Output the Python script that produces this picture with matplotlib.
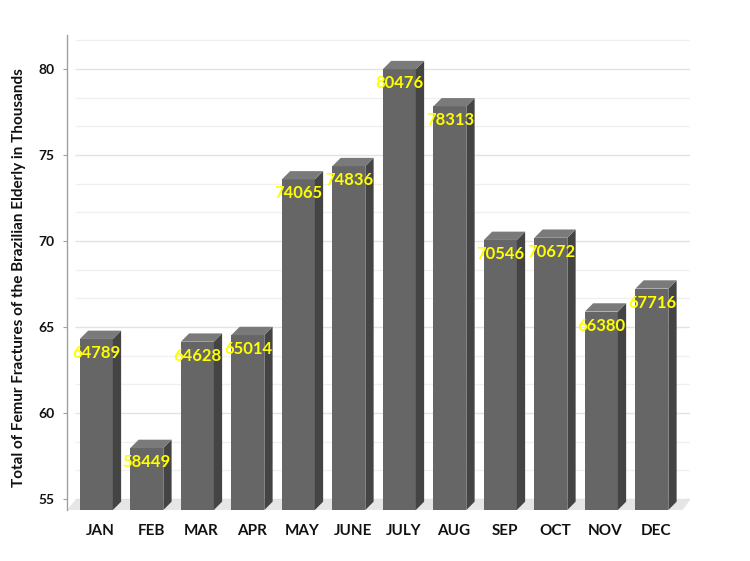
import matplotlib
matplotlib.use("Agg")
import matplotlib.pyplot as plt
from matplotlib.patches import Polygon
import numpy as np

months = ["JAN", "FEB", "MAR", "APR", "MAY", "JUNE", "JULY", "AUG", "SEP", "OCT", "NOV", "DEC"]
fractures = [64789, 58449, 64628, 65014, 74065, 74836, 80476, 78313, 70546, 70672, 66380, 67716]
y_ticks = [55, 60, 65, 70, 75, 80]
y_label = "Total of Femur Fractures of the Brazilian Elderly in Thousands"

plt.rcParams['font.family'] = ['Lato', 'DejaVu Sans']

fig = plt.figure(figsize=(7.5, 5.61), dpi=100)
ax = fig.add_axes([67/750, 1-510/561, (690-67)/750, (510-35)/561])

ymin, ymax = 54.36, 81.98
xmin, xmax = -0.663, 11.673
ax.set_xlim(xmin, xmax)
ax.set_ylim(ymin, ymax)

dx = 0.164   # depth in x units
dy = 0.483   # depth in y units
fw = 0.653   # front width

front_c = "#666666"
side_c = "#444444"
top_c = "#7a7a7a"

# gridlines on back wall
minor = np.arange(55, 82.0, 5/3)
for g in minor:
    major = abs(g/5 - round(g/5)) < 1e-6
    ax.plot([xmin + dx, xmax], [g, g], color="#e3e3e3" if major else "#f0f0f0",
            lw=1.0, zorder=0.5, solid_capstyle="butt")

# floor
floor = Polygon([[xmin, ymin], [xmax - dx*0.9, ymin], [xmax, ymin + dy*1.2], [xmin + dx, ymin + dy*1.2]],
                closed=True, facecolor="#e6e6e6", edgecolor="none", zorder=1)
ax.add_patch(floor)

vals = np.array(fractures) / 1000.0
for i, v in enumerate(vals):
    x0 = i - (fw + dx) / 2
    x1 = x0 + fw
    ft = v - dy
    ax.add_patch(Polygon([[x0, ymin], [x1, ymin], [x1, ft], [x0, ft]], closed=True,
                         facecolor=front_c, edgecolor="none", zorder=3))
    ax.add_patch(Polygon([[x1, ymin], [x1 + dx, ymin + dy], [x1 + dx, v], [x1, ft]], closed=True,
                         facecolor=side_c, edgecolor="none", zorder=3))
    ax.add_patch(Polygon([[x0, ft], [x1, ft], [x1 + dx, v], [x0 + dx, v]], closed=True,
                         facecolor=top_c, edgecolor="none", zorder=3))
    ax.annotate(f"{fractures[i]}", xy=((x0 + x1) / 2, v), xytext=(0, -22.3),
                textcoords="offset pixels", ha="center", va="center",
                color="#ffff00", fontsize=12, fontweight="bold", zorder=5)

ax.set_xticks(range(len(months)))
ax.set_xticklabels(months, fontsize=11, fontweight="bold", color="#111111")
ax.tick_params(axis="x", length=0, pad=10)
ax.set_yticks(y_ticks)
ax.set_yticklabels([str(t) for t in y_ticks], fontsize=10, fontweight="bold", color="#111111")
ax.tick_params(axis="y", length=3, width=0.8, color="#a0a0a0", pad=6)

for s in ["top", "right", "bottom"]:
    ax.spines[s].set_visible(False)
ax.spines["left"].set_color("#a0a0a0")
ax.spines["left"].set_linewidth(1.0)

ax.set_ylabel(y_label, fontsize=11, fontweight="bold", color="#111111")
ax.yaxis.set_label_coords(-0.066, 0.49)

fig.savefig("out.png", dpi=100)
